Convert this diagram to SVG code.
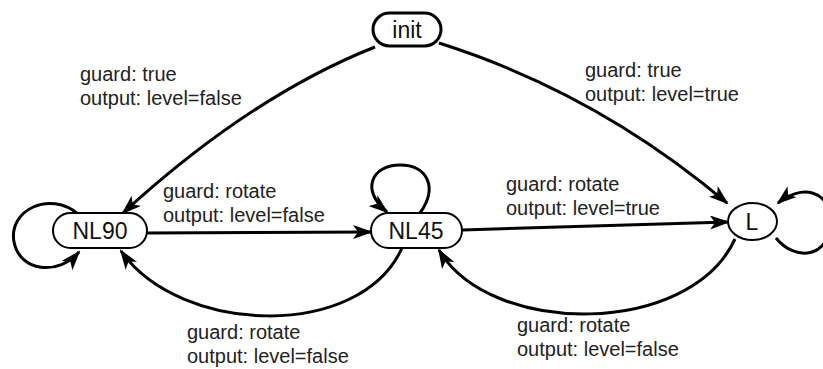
<svg xmlns="http://www.w3.org/2000/svg" width="823" height="369" viewBox="0 0 823 369">
<style>
.node{fill:#fff;stroke:#000;stroke-width:2}
.nt{font-family:"Liberation Sans",Arial,sans-serif;font-size:23px;fill:#111;text-anchor:middle}
.lb{font-family:"Liberation Sans",Arial,sans-serif;font-size:20px;fill:#222}
.e{fill:none;stroke:#000;stroke-width:3;marker-end:url(#ah)}
</style>
<defs>
<marker id="ah" markerUnits="userSpaceOnUse" markerWidth="20" markerHeight="14" refX="18" refY="7" orient="auto" viewBox="0 0 20 14">
<path d="M0,0 L20,7 L0,14 L5,7 z" fill="#000"/>
</marker>
</defs>
<rect width="823" height="369" fill="#fff"/>
<g id="edges">
<path class="e" d="M375,47 Q251,96 123,213"/>
<path class="e" d="M439,43 Q597,93 727,203"/>
<path class="e" d="M147,233 L371,232"/>
<path class="e" d="M462,230 L728,222"/>
<path class="e" d="M402,248 C360,341 180,335 121,251"/>
<path class="e" d="M735,239 C690,337 490,337 439,250"/>
<path class="e" d="M78,214 C50,190 8,210 14,242 C20,272 58,276 79,252"/>
<path class="e" d="M420,213 C438,188 428,165 400,165 C372,165 360,190 387,212"/>
<path class="e" d="M776,238 C795,262 830,258 830,222 C830,188 800,185 778,203"/>
</g>
<g id="init"><rect class="node" x="373" y="13" width="68" height="33" rx="16.5" style="stroke-width:3"/><text class="nt" x="407" y="38">init</text></g>
<g id="NL90"><rect class="node" x="53" y="213" width="94" height="35" rx="17.5"/><text class="nt" x="100" y="239">NL90</text></g>
<g id="NL45"><rect class="node" x="371" y="213" width="91" height="35" rx="17.5"/><text class="nt" x="416" y="239">NL45</text></g>
<g id="L"><ellipse class="node" cx="752.5" cy="221.5" rx="24.5" ry="18.5"/><text class="nt" x="752" y="230">L</text></g>
<g id="labels">
<text class="lb" x="80" y="81">guard: true</text>
<text class="lb" x="80" y="105">output: level=false</text>
<text class="lb" x="585" y="77">guard: true</text>
<text class="lb" x="585" y="101">output: level=true</text>
<text class="lb" x="163" y="198">guard: rotate</text>
<text class="lb" x="163" y="222">output: level=false</text>
<text class="lb" x="506" y="191">guard: rotate</text>
<text class="lb" x="506" y="215">output: level=true</text>
<text class="lb" x="187" y="339">guard: rotate</text>
<text class="lb" x="187" y="363">output: level=false</text>
<text class="lb" x="517" y="332">guard: rotate</text>
<text class="lb" x="517" y="356">output: level=false</text>
</g>
</svg>
